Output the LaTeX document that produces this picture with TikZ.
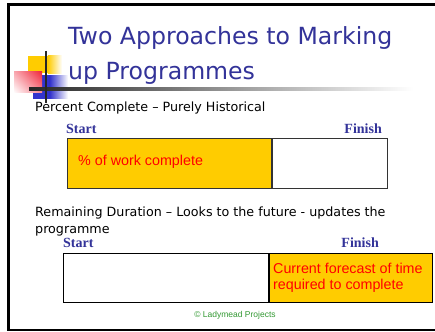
\documentclass[tikz,border=0pt]{standalone}
\usepackage{fontspec}
\usetikzlibrary{shadings}
\setmainfont{DejaVu Sans}
\newfontfamily\tahomaish{DejaVu Sans}
\newfontfamily\arialish{Liberation Sans}
\newfontfamily\timesish{Liberation Serif}
\definecolor{titleblue}{RGB}{51,51,153}
\definecolor{goldy}{RGB}{255,204,0}
\definecolor{redtext}{RGB}{255,0,0}
\definecolor{greentext}{RGB}{51,153,51}
\definecolor{logoblue}{RGB}{51,51,204}
\definecolor{logored}{RGB}{240,40,60}
\definecolor{framegray}{RGB}{51,51,51}
\tikzset{
  titletext/.style={font=\tahomaish\fontsize{23.6}{28}\selectfont, text=titleblue, inner sep=0pt},
  bodytext/.style={font=\tahomaish\fontsize{12.7}{17}\selectfont, text=black, inner sep=0pt},
  endlabel/.style={font=\timesish\bfseries\fontsize{14}{16}\selectfont, text=titleblue, inner sep=0pt},
  bartext/.style={font=\arialish\fontsize{14.3}{16}\selectfont, text=redtext, inner sep=0pt},
  donebox/.style={draw=framegray, line width=1pt, fill=goldy, inner sep=0pt},
  openbox/.style={draw=framegray, line width=1pt, fill=white, inner sep=0pt},
  credit/.style={font=\arialish\fontsize{8.5}{10}\selectfont, text=greentext, inner sep=0pt}
}
\begin{document}
\begin{tikzpicture}[x=1pt,y=-1pt]
\useasboundingbox (0,0) rectangle (435,331);
\fill[white] (0,0) rectangle (435,331);
% slide frame
\draw[line width=2.5pt] (440,4.5) -- (8.5,4.5) -- (8.5,330) -- (440,330);
% logo squares
\fill[goldy] (28,56) rectangle (48,73.5);
\shade[left color=goldy, right color=white] (47.8,56) rectangle (62,73.5);
\fill[logoblue] (33,75.5) rectangle (50,99);
\shade[left color=logoblue, right color=white] (49.8,75.5) rectangle (68,99);
\shade[upper right=logored, lower left=white, upper left=logored!40!white, lower right=logored!55!white] (14,72) rectangle (42,93);
% logo lines
\shade[left color=black!85, right color=white] (29,87.7) rectangle (413,90.5);
\draw[line width=2pt, black!85] (45.7,51) -- (45.7,103);
% title
\node[titletext, anchor=base west] (t1) at (68,45) {Two Approaches to Marking};
\node[titletext, anchor=base west] (t2) at (68,80) {up Programmes};
% first section
\node[bodytext, anchor=base west] (s1) at (35,112) {Percent Complete – Purely Historical};
\node[endlabel, anchor=base west] (st1) at (66,133) {Start};
\node[endlabel, anchor=base east] (fi1) at (382,133) {Finish};
\node[donebox, minimum width=204.5pt, minimum height=50pt, anchor=north west] (done1) at (66.5,138) {};
\node[openbox, minimum width=115pt, minimum height=50pt, anchor=north west] (rest1) at (done1.north east) {};
\node[bartext, anchor=base west] (pc) at (78,165) {\% of work complete};
% second section
\node[bodytext, anchor=base west] (s2a) at (35,216) {Remaining Duration – Looks to the future - updates the};
\node[bodytext, anchor=base west] (s2b) at (35,233) {programme};
\node[endlabel, anchor=base west] (st2) at (63,247) {Start};
\node[endlabel, anchor=base east] (fi2) at (379,247) {Finish};
\node[openbox, draw=black, minimum width=205pt, minimum height=49pt, anchor=north west] (done2) at (63,253) {};
\node[donebox, draw=black, minimum width=163pt, minimum height=49pt, anchor=north west] (rest2) at (done2.north east) {};
\node[bartext, anchor=base west] (fc1) at (273,273) {Current forecast of time};
\node[bartext, anchor=base west] (fc2) at (273,289) {required to complete};
\node[credit, anchor=base] (cr) at (235,317) {© Ladymead Projects};
\end{tikzpicture}
\end{document}
